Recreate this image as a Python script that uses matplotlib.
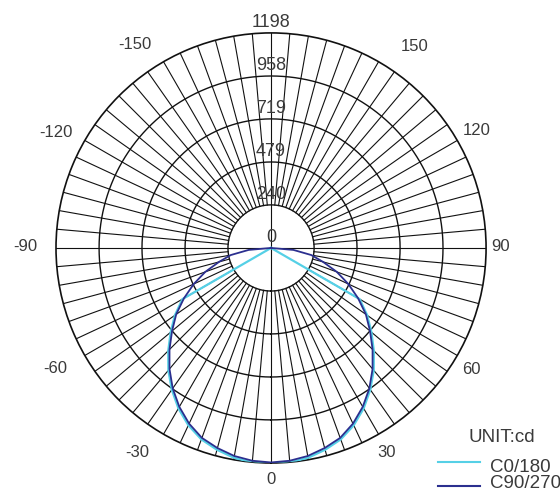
import numpy as np
import matplotlib
matplotlib.use("Agg")
import matplotlib.pyplot as plt

plt.rcParams['font.family'] = ['Liberation Sans', 'DejaVu Sans']

# ---- data ----
half_angles = [0, 5, 10, 15, 20, 25, 30, 35, 40, 45, 50, 55, 60, 65, 70, 75, 80, 85, 90]
c0_180 = [1205, 1200, 1187, 1164, 1135, 1090, 1032, 964, 890, 810, 730, 654, 570,
          0, 0, 0, 0, 0, 0]
c90_270 = [1195, 1190, 1177, 1154, 1126, 1080, 1022, 955, 880, 800, 720, 645, 560,
           475, 390, 300, 228, 125, 0]
ring_values = [240, 479, 719, 958, 1198]
ring_labels = ["0", "240", "479", "719", "958", "1198"]
angle_ticks = [0, 30, 60, 90, 120, 150, -150, -120, -90, -60, -30]
rmax = 1198
series_names = ["C0/180", "C90/270"]
series_colors = ["#55d0e6", "#2b2f8f"]

# ---- style: pixel nudges of the angle labels (screen x right, y down) ----
label_nudge = {0: (0, 0), 30: (0, 4), 60: (0, 6), 90: (-2, -1), 120: (5, -2),
               150: (28, -1), -150: (-21, -3), -120: (-15, 0), -90: (-15, -1),
               -60: (-16, 5), -30: (-18, 4)}
txt = '#3a3a3a'

# ---- figure ----
fig = plt.figure(figsize=(5.6, 4.91), dpi=100)
ax = fig.add_axes([0.1, 0.057, 0.768, 0.876], projection='polar')
ax.set_theta_zero_location('S')
ax.set_theta_direction(1)
ax.set_ylim(0, rmax)
ax.grid(False)
ax.set_xticks([])
ax.set_yticks([])
ax.spines['polar'].set_linewidth(1.2)
ax.spines['polar'].set_color('#111111')

gc = '#111111'
# rings
tt = np.linspace(0, 2 * np.pi, 721)
for rv in ring_values[:-1]:
    ax.plot(tt, np.full_like(tt, rv), color=gc, lw=1.0, zorder=1)
# radial lines
for a in range(0, 360, 5):
    th = np.deg2rad(a)
    r0 = 0 if a % 90 == 0 else ring_values[0]
    ax.plot([th, th], [r0, rmax], color=gc, lw=0.8, zorder=1)

# radial labels on the top axis
label_r = [0] + ring_values
for rv, lab in zip(label_r, ring_labels):
    ax.text(np.pi, rv + 10, lab, ha='center', va='bottom', fontsize=13,
            color=txt, zorder=5)

# angle labels
for a in angle_ticks:
    dx, dy = label_nudge[a]
    ax.annotate(str(a), xy=(np.deg2rad(a), rmax * 1.075), xytext=(dx, -dy),
                textcoords='offset pixels', ha='center', va='center',
                fontsize=12, color=txt, annotation_clip=False)

# series
def full(vals):
    ang = [-a for a in half_angles[::-1]] + half_angles[1:]
    v = vals[::-1] + vals[1:]
    return np.deg2rad(ang), np.array(v)

for vals, col, lw in [(c0_180, series_colors[0], 1.6), (c90_270, series_colors[1], 1.3)]:
    th, r = full(vals)
    ax.plot(th, r, color=col, lw=lw, zorder=3)

# legend
fig.text(468 / 560, 1 - 438 / 491, "UNIT:cd", fontsize=13.5, color=txt,
         ha='left', va='center')
for i, (name, col) in enumerate(zip(series_names, series_colors)):
    ly = [462, 486][i]
    ty = [468, 484][i]
    fig.add_artist(plt.Line2D([438 / 560, 480 / 560], [1 - ly / 491, 1 - ly / 491],
                              color=col, lw=1.5, transform=fig.transFigure))
    fig.text(490 / 560, 1 - ty / 491, name, fontsize=13.5, color=txt,
             ha='left', va='center')

fig.savefig('out.png', dpi=100)
